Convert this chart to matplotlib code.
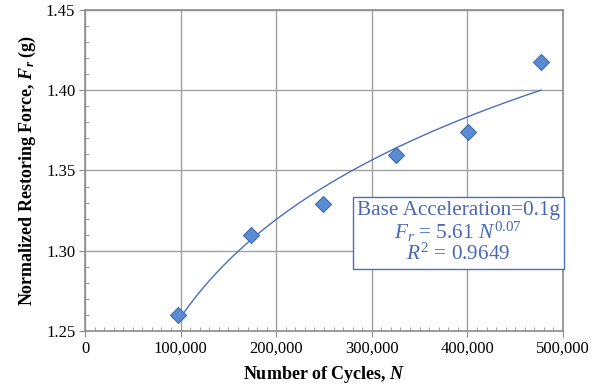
import numpy as np
import matplotlib
matplotlib.use('Agg')
import matplotlib.pyplot as plt
from matplotlib.ticker import MultipleLocator, FuncFormatter

plt.rcParams['font.family'] = 'Liberation Serif'
plt.rcParams['mathtext.fontset'] = 'custom'
plt.rcParams['mathtext.rm'] = 'Liberation Serif'
plt.rcParams['mathtext.it'] = 'Liberation Serif:italic'
plt.rcParams['mathtext.bf'] = 'Liberation Serif:bold'
plt.rcParams['mathtext.bfit'] = 'Liberation Serif:italic:bold'

# data
cycles = [97000, 173600, 249000, 325300, 401000, 477000]
force = [1.260, 1.310, 1.329, 1.3595, 1.3738, 1.4178]

# power trendline (log-log least squares, like Excel)
b, lna = np.polyfit(np.log(cycles), np.log(force), 1)
n_fit = np.linspace(cycles[0], cycles[-1], 200)
f_fit = np.exp(lna) * n_fit ** b

fig = plt.figure(figsize=(6.02, 3.90), dpi=100)
ax = fig.add_axes([0.1412, 0.1513, 0.794, 0.8231])

ax.plot(n_fit, f_fit, color='#4a6fbf', lw=1.0, zorder=3)
ax.plot(cycles, force, ls='none', marker='D', ms=8, mfc='#5a8ad0',
        mec='#3f6db3', mew=0.8, zorder=4)

ax.set_xlim(0, 500000)
ax.set_ylim(1.25, 1.45)
ax.xaxis.set_major_locator(MultipleLocator(100000))
ax.xaxis.set_minor_locator(MultipleLocator(10000))
ax.yaxis.set_major_locator(MultipleLocator(0.05))
ax.yaxis.set_minor_locator(MultipleLocator(0.01))
ax.xaxis.set_major_formatter(FuncFormatter(lambda v, p: f'{int(v):,}'))
ax.yaxis.set_major_formatter(FuncFormatter(lambda v, p: f'{v:.2f}'))

ax.grid(True, which='major', color='#a0a0a0', lw=1.0, zorder=0)
for s in ax.spines.values():
    s.set_color('#8c8c8c')
    s.set_linewidth(1.2)
ax.tick_params(which='major', direction='out', length=4, color='#8c8c8c',
               labelsize=12, pad=3)
ax.tick_params(which='minor', direction='in', length=3, color='#8c8c8c')

ax.set_xlabel(r'Number of Cycles, $\mathbfit{N}$', fontsize=13,
              fontweight='bold', labelpad=5)
ax.set_ylabel(r'Normalized Restoring Force, $\mathbfit{F_r}$ (g)', fontsize=13,
              fontweight='bold', labelpad=6)

ax.text(0.781, 0.305,
        'Base Acceleration=0.1g\n'
        r'$F_r$ = 5.61 $N^{0.07}$' '\n'
        r'$R^2$ = 0.9649',
        transform=ax.transAxes, ha='center', va='center', fontsize=15.3,
        color='#4a67b8', linespacing=0.98, multialignment='center',
        bbox=dict(boxstyle='square,pad=0.18', fc='white', ec='#4a6fbf', lw=1.0),
        zorder=5)

fig.savefig('out.png', dpi=100)
